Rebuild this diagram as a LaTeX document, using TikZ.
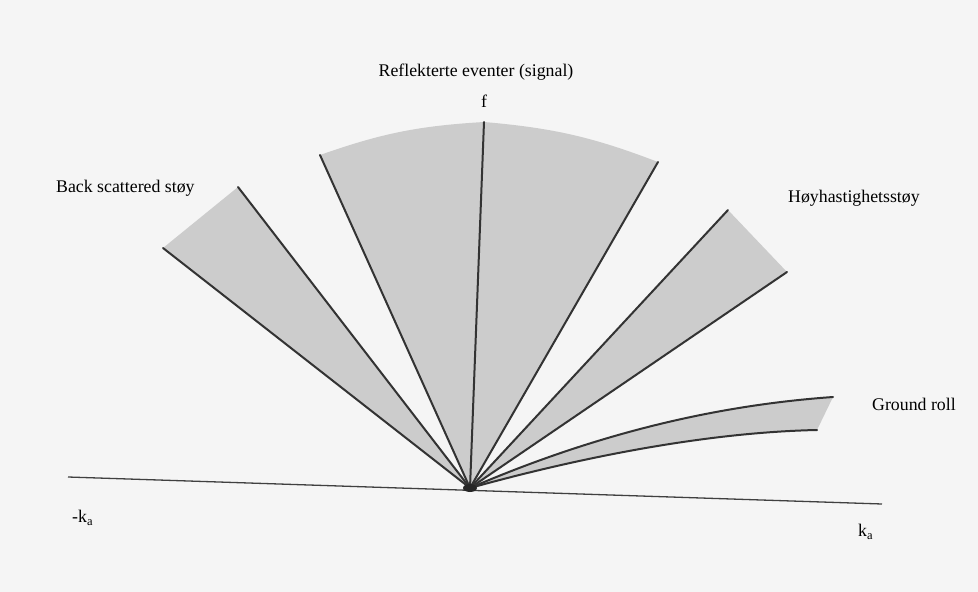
\documentclass[tikz,border=0pt]{standalone}
\usepackage{fontspec}
\setmainfont{Liberation Serif}
\begin{document}
\begin{tikzpicture}[x=1pt,y=-1pt,
  ray/.style={draw=black!80,line width=2pt,line cap=round},
  fan/.style={fill=black!20},
  lbl/.style={font=\fontsize{17.8}{21}\selectfont,inner sep=0pt,anchor=west}]
\fill[black!4] (0,0) rectangle (978,592);
\useasboundingbox (0,0) rectangle (978,592);
\coordinate (o) at (470,488);
% back scattered
\coordinate (b1) at (163,248);
\coordinate (b2) at (238,187);
\fill[fan] (o) -- (b1) -- (b2) -- cycle;
% signal
\coordinate (s1) at (320,155);
\coordinate (s0) at (484,122);
\coordinate (s2) at (658,162);
\fill[fan] (o) -- (s1) to[bend left=8] (s0) to[bend left=8] (s2) -- cycle;
% high velocity
\coordinate (h1) at (728,210);
\coordinate (h2) at (787,272);
\fill[fan] (o) -- (h1) -- (h2) -- cycle;
% ground roll
\coordinate (g1) at (833,397);
\coordinate (g2) at (817,430);
\fill[fan] (o) .. controls (600,432) and (720,405) .. (g1) -- (g2) .. controls (720,432) and (600,452) .. (o) -- cycle;
% axis
\coordinate (l) at (68,477);
\coordinate (r) at (882,504);
\draw[black!75,line width=1.3pt] (l) -- (r);
% rays
\foreach \p in {b1,b2,s1,s0,s2,h1,h2} \draw[ray] (o) -- (\p);
\draw[ray] (o) .. controls (600,432) and (720,405) .. (g1);
\draw[ray] (o) .. controls (600,452) and (720,432) .. (g2);
\fill[black!85] (o) ellipse (7 and 4);
% labels
\node[lbl,anchor=center] (tsig) at (476,72) {Reflekterte eventer (signal)};
\node[lbl,anchor=center] (tf) at (484,101) {f};
\node[lbl] (tback) at (56,188) {Back scattered støy};
\node[lbl] (thigh) at (788,198) {Høyhastighetsstøy};
\node[lbl] (tground) at (872,404) {Ground roll};
\node[lbl] (tmk) at (72,518) {-k\textsubscript{a}};
\node[lbl] (tk) at (858,532) {k\textsubscript{a}};
\end{tikzpicture}
\end{document}
